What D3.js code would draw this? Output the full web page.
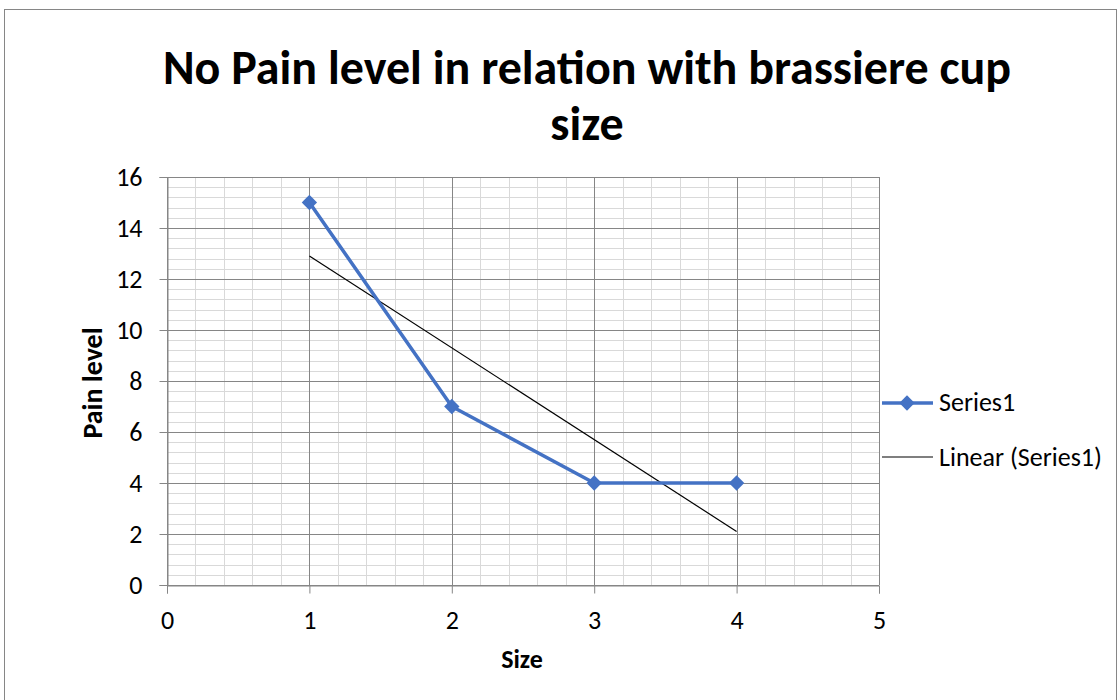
<!DOCTYPE html>
<html>
<head>
<title>No Pain level</title>
<script src="https://cdnjs.cloudflare.com/ajax/libs/d3/7.8.5/d3.min.js"></script>
<style>
  body { margin: 0; background: #fff; }
  text { font-family: Calibri, Carlito, "Open Sans", "Liberation Sans", sans-serif; }
</style>
</head>
<body>
<script>
// chart data
var sizes = [1, 2, 3, 4];
var painLevels = [15, 7, 4, 4];
var xTicks = [0, 1, 2, 3, 4, 5];
var yTicks = [0, 2, 4, 6, 8, 10, 12, 14, 16];
var seriesName = "Series1";
var trendName = "Linear (Series1)";

var width = 1120, height = 700;
var svg = d3.select("body").append("svg")
  .attr("width", width).attr("height", height);

// outer chart border
svg.append("rect")
  .attr("x", 4.5).attr("y", 9.5)
  .attr("width", 1112).attr("height", 700)
  .attr("fill", "#fff").attr("stroke", "#868686");

var x = d3.scaleLinear().domain([0, 5]).range([167, 879]);
var y = d3.scaleLinear().domain([0, 16]).range([585, 177]);

// minor grid
var minorX = d3.range(0, 5.001, 0.2);
var minorY = d3.range(0, 16.001, 0.4);
svg.append("g").selectAll("line").data(minorX).enter().append("line")
  .attr("x1", d => Math.round(x(d)) + 0.5).attr("x2", d => Math.round(x(d)) + 0.5)
  .attr("y1", y(16)).attr("y2", y(0))
  .attr("stroke", "#d9d9d9").attr("stroke-width", 1);
svg.append("g").selectAll("line").data(minorY).enter().append("line")
  .attr("y1", d => Math.round(y(d)) + 0.5).attr("y2", d => Math.round(y(d)) + 0.5)
  .attr("x1", x(0)).attr("x2", x(5))
  .attr("stroke", "#d9d9d9").attr("stroke-width", 1);

// major grid
svg.append("g").selectAll("line").data(xTicks).enter().append("line")
  .attr("x1", d => Math.round(x(d)) + 0.5).attr("x2", d => Math.round(x(d)) + 0.5)
  .attr("y1", y(16)).attr("y2", y(0))
  .attr("stroke", "#868686").attr("stroke-width", 1);
svg.append("g").selectAll("line").data(yTicks).enter().append("line")
  .attr("y1", d => Math.round(y(d)) + 0.5).attr("y2", d => Math.round(y(d)) + 0.5)
  .attr("x1", x(0)).attr("x2", x(5))
  .attr("stroke", "#868686").attr("stroke-width", 1);

// axes
var xAxis = svg.append("g")
  .attr("transform", "translate(0," + (Math.round(y(0)) + 0.5) + ")")
  .call(d3.axisBottom(x).tickValues(xTicks).tickFormat(d3.format("d")).tickSize(8).tickPadding(17));
var yAxis = svg.append("g")
  .attr("transform", "translate(" + (Math.round(x(0)) + 0.5) + ",0)")
  .call(d3.axisLeft(y).tickValues(yTicks).tickFormat(d3.format("d")).tickSize(8).tickPadding(17));
[xAxis, yAxis].forEach(function(a) {
  a.select(".domain").attr("stroke", "#868686");
  a.selectAll(".tick line").attr("stroke", "#868686");
  a.selectAll(".tick text").attr("font-size", 26).attr("fill", "#000")
    .style("font-family", "Calibri, Carlito, 'Open Sans', 'Liberation Sans', sans-serif");
});

// trend line (least squares)
var mx = d3.mean(sizes), my = d3.mean(painLevels);
var sxy = d3.sum(sizes, (s, i) => (s - mx) * (painLevels[i] - my));
var sxx = d3.sum(sizes, s => (s - mx) * (s - mx));
var slope = sxy / sxx, intercept = my - slope * mx;
var trendX = d3.extent(sizes);
svg.append("line")
  .attr("x1", x(trendX[0])).attr("y1", y(intercept + slope * trendX[0]))
  .attr("x2", x(trendX[1])).attr("y2", y(intercept + slope * trendX[1]))
  .attr("stroke", "#000").attr("stroke-width", 1.2);

// series line
var blue = "#4472c4";
var line = d3.line().x((d, i) => x(sizes[i])).y(d => y(d));
svg.append("path").datum(painLevels)
  .attr("d", line).attr("fill", "none")
  .attr("stroke", blue).attr("stroke-width", 3.5).attr("stroke-linejoin", "round");
var diamond = d3.symbol().type(d3.symbolDiamond2).size(150);
svg.append("g").selectAll("path").data(painLevels).enter().append("path")
  .attr("d", diamond)
  .attr("transform", (d, i) => "translate(" + x(sizes[i]) + "," + y(d) + ")")
  .attr("fill", blue);

// title
var title = svg.append("text")
  .attr("text-anchor", "middle")
  .attr("font-size", 48).attr("font-weight", "bold");
title.append("tspan").attr("x", 587).attr("y", 84).text("No Pain level in relation with brassiere cup");
title.append("tspan").attr("x", 587).attr("y", 140).text("size");

// axis titles
svg.append("text").attr("x", 522).attr("y", 668)
  .attr("text-anchor", "middle").attr("font-size", 26).attr("font-weight", "bold")
  .text("Size");
svg.append("text")
  .attr("transform", "translate(102,383) rotate(-90)")
  .attr("text-anchor", "middle").attr("font-size", 28).attr("font-weight", "bold")
  .text("Pain level");

// legend
var lg = svg.append("g");
lg.append("line").attr("x1", 882).attr("x2", 933).attr("y1", 403).attr("y2", 403)
  .attr("stroke", blue).attr("stroke-width", 3.5);
lg.append("path").attr("d", diamond).attr("transform", "translate(907,403)").attr("fill", blue);
lg.append("text").attr("x", 939).attr("y", 411).attr("font-size", 26).text(seriesName);
lg.append("line").attr("x1", 882).attr("x2", 933).attr("y1", 457).attr("y2", 457)
  .attr("stroke", "#000").attr("stroke-width", 1.2);
lg.append("text").attr("x", 939).attr("y", 466).attr("font-size", 26).text(trendName);
</script>
</body>
</html>
